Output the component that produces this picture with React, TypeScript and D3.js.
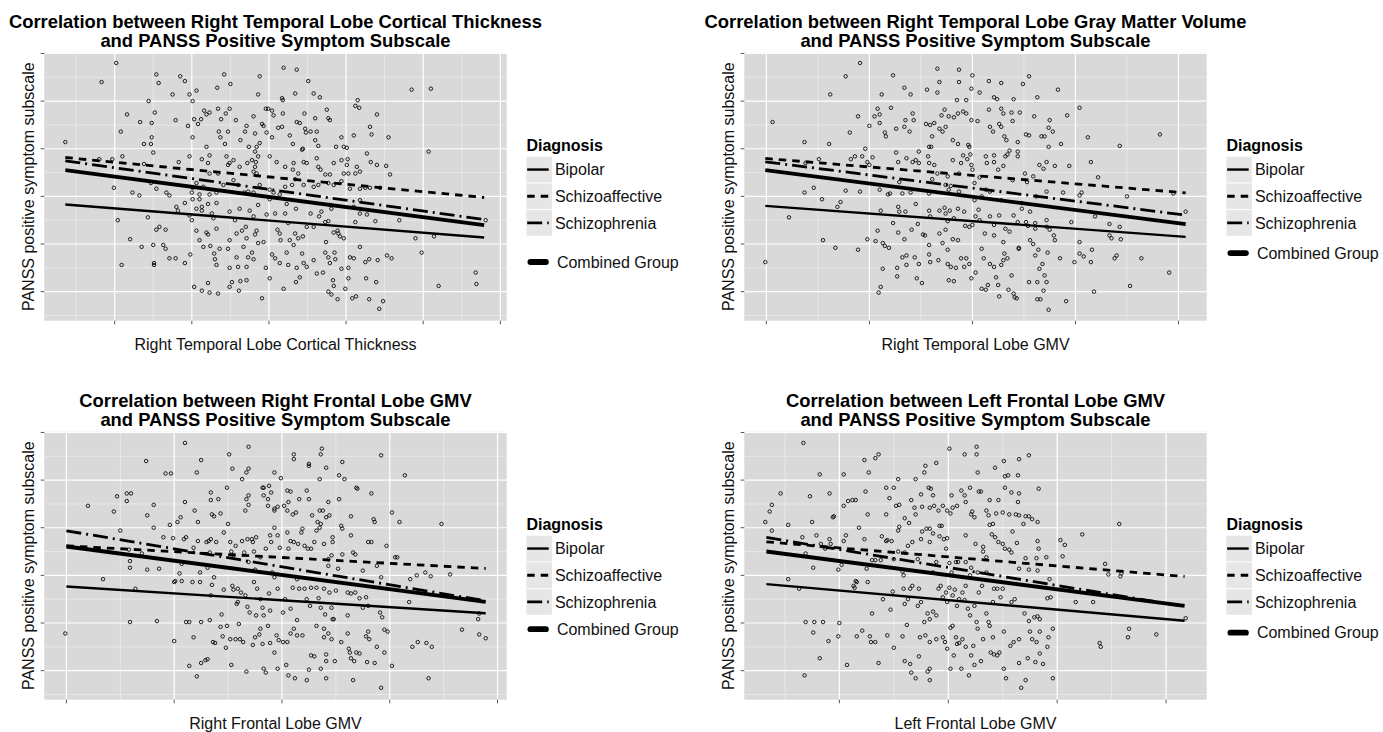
import React from "react";
import * as d3 from "d3";

type Pt = [number, number];

const legendTitle = "Diagnosis";
const legendGroups = ["Bipolar", "Schizoaffective", "Schizophrenia"];
const combinedLabel = "Combined Group";
const yAxisTitle = "PANSS positive symptom subscale";
const yTicks = [10, 15, 20, 25, 30, 35];
const yDomain: [number, number] = [6.95, 35.08];

// ---------- Panel 1: Right temporal lobe cortical thickness ----------
const ctTitle = ["Correlation between Right Temporal Lobe Cortical Thickness", "and PANSS Positive Symptom Subscale"];
const ctXLabel = "Right Temporal Lobe Cortical Thickness";
const ctXTicks = [1, 2, 3, 4, 5, 6];
const ctFitX = [0.36, 5.79];
// order: Bipolar, Schizoaffective, Schizophrenia, Combined
const ctFitStart = [19.15, 24.08, 23.73, 22.75];
const ctFitEnd = [15.68, 19.88, 17.57, 16.98];
const ctPoints: Pt[] = [
  [1.02,34.0],[0.83,32.0],[1.54,32.8],[1.57,31.9],[1.85,32.6],[1.91,32.1],[1.75,30.7],[1.97,30.7],[2.06,31.1],[2.01,30.0],[2.42,32.8],[2.33,31.4],[2.50,31.8],[2.88,32.6],[3.19,33.5],[3.36,33.3],[3.51,32.1],[2.86,30.7],[3.34,30.8],[3.17,30.3],[3.18,30.1],[3.58,30.8],[3.66,30.4],[4.15,30.1],[4.85,31.2],[5.10,31.3],[1.44,30.0],
  [4.17,29.3],[2.99,29.2],[3.04,29.0],[3.06,28.5],[2.96,29.2],[1.16,28.6],[1.08,26.8],[1.48,27.7],[1.52,28.8],[1.48,26.2],[1.47,25.5],[1.50,24.6],[1.38,25.5],[1.33,27.8],[1.79,28.0],[1.95,27.4],[2.01,26.2],[2.03,28.1],[2.08,27.6],[2.12,28.1],[2.16,29.0],[2.19,28.6],[2.23,28.8],[2.34,29.2],[2.38,28.1],[2.44,28.7],[2.49,29.2],[2.57,28.0],[2.35,26.8],[2.37,26.2],[2.47,26.8],[2.43,25.5],[2.71,27.4],[2.69,26.8],[2.63,25.9],[2.74,25.2],[2.80,28.4],[2.91,27.6],[2.93,27.4],[2.82,26.6],[2.88,25.6],[2.84,25.2],[2.82,24.7],[2.97,26.7],[3.04,26.2],[3.12,27.2],[3.17,27.3],[3.18,28.7],[3.27,26.4],[3.31,25.5],[3.36,27.8],[3.40,27.7],[3.46,28.7],[3.47,27.1],[3.48,26.7],[3.44,25.0],[3.60,28.2],[3.62,26.8],[3.60,25.9],[3.64,25.3],[3.77,28.2],[3.79,28.0],[3.75,29.1],[3.94,26.2],[3.97,25.2],[4.01,25.1],[4.10,26.4],[4.31,27.3],[4.33,26.5],[4.40,28.6],[4.55,26.2],[4.12,29.5],[3.87,25.2],[3.54,26.8],[2.19,25.2],
  [0.36,25.7],[0.80,23.9],[0.97,23.9],[1.10,24.2],[0.99,20.9],[1.23,20.4],[1.32,20.1],[1.38,23.4],[1.47,21.4],[1.67,20.4],[1.71,20.1],[1.83,23.6],[1.97,24.2],[2.00,20.4],[2.01,20.9],[2.10,20.2],[2.13,23.9],[2.21,23.5],[2.23,24.3],[2.23,22.4],[2.34,22.4],[2.45,24.2],[2.49,23.5],[2.54,23.8],[2.47,23.3],[2.62,23.1],[2.72,23.5],[2.78,23.8],[2.83,23.6],[2.86,24.2],[2.82,23.1],[2.80,22.6],[2.84,22.4],[3.01,24.2],[3.10,23.6],[3.21,23.1],[3.32,23.5],[3.31,22.8],[3.38,22.4],[3.43,24.9],[3.45,23.6],[3.49,23.5],[3.62,24.0],[3.64,23.1],[3.67,22.8],[3.73,22.3],[3.79,22.3],[3.84,23.5],[3.94,23.8],[4.02,23.9],[4.01,23.3],[3.97,22.4],[4.03,22.4],[4.12,22.4],[4.14,23.1],[4.18,22.6],[4.27,24.5],[4.32,23.6],[4.40,23.3],[4.52,23.2],[4.57,22.3],[5.07,24.7],[3.94,21.6],[4.05,20.8],[4.18,20.8],[4.25,20.9],[4.31,20.9],[4.44,20.9],[3.84,21.2],[3.77,21.4],[3.64,21.2],[3.58,21.0],[3.45,21.2],[3.34,21.8],[3.30,21.2],[3.21,21.0],[3.14,20.2],[3.06,20.4],[3.01,20.7],[2.88,21.2],[2.80,20.4],[2.73,20.5],[2.68,20.4],[2.60,21.2],[2.54,21.7],[2.41,21.2],[2.32,20.4],[2.23,20.2],[2.15,21.0],[2.06,21.4],[1.54,20.8],
  [1.04,17.5],[1.20,15.5],[1.35,14.7],[1.43,17.8],[1.50,14.9],[1.54,16.5],[1.58,16.8],[1.66,16.5],[1.63,14.9],[1.66,14.5],[1.80,18.9],[1.82,18.5],[1.91,19.3],[1.97,18.0],[2.01,19.7],[2.10,19.7],[2.13,18.9],[2.06,18.7],[2.13,18.5],[2.21,19.2],[2.26,18.2],[2.32,19.3],[2.28,17.7],[2.00,17.5],[2.06,16.4],[2.10,15.4],[2.15,14.7],[2.19,16.2],[2.21,16.0],[2.24,14.8],[2.32,16.6],[2.36,14.5],[2.49,18.4],[2.56,17.5],[2.58,16.1],[2.49,15.4],[2.47,14.5],[2.62,18.7],[2.65,16.4],[2.70,16.8],[2.71,15.6],[2.67,14.7],[2.75,18.5],[2.80,17.9],[2.82,16.0],[2.86,19.1],[2.84,16.4],[2.86,15.1],[2.93,15.2],[2.97,18.1],[3.01,19.7],[3.08,18.2],[3.11,16.5],[3.14,16.1],[3.15,15.4],[3.21,18.2],[3.23,19.2],[3.25,17.2],[3.27,15.4],[3.32,14.9],[3.34,16.1],[3.35,18.7],[3.38,15.6],[3.44,15.8],[3.49,16.8],[3.54,18.2],[3.58,16.8],[3.65,17.9],[3.68,18.4],[3.73,17.3],[3.77,17.4],[3.79,19.1],[3.81,18.7],[3.84,16.2],[3.89,16.4],[3.90,16.1],[3.92,15.8],[3.97,15.6],[3.74,15.2],[4.12,17.3],[4.18,18.2],[4.27,18.1],[4.38,17.4],[4.69,17.5],[4.90,15.6],[5.14,15.8],[5.81,17.5],[4.10,18.9],[4.18,19.6],
  [1.09,12.8],[1.51,13.0],[1.51,12.8],[1.71,13.5],[1.79,13.5],[1.91,13.0],[1.98,13.9],[2.03,10.5],[2.13,10.1],[2.21,10.9],[2.23,9.9],[2.34,9.8],[2.30,13.4],[2.32,12.8],[2.29,14.0],[2.49,12.5],[2.49,10.5],[2.52,11.0],[2.58,13.6],[2.60,12.6],[2.61,10.1],[2.63,11.1],[2.71,11.2],[2.73,13.6],[2.78,14.1],[2.80,13.4],[2.71,12.6],[2.91,9.3],[2.96,12.5],[3.01,11.4],[3.04,13.9],[3.08,13.5],[3.14,13.0],[3.19,10.3],[3.23,14.1],[3.25,12.8],[3.35,11.0],[3.36,12.5],[3.40,11.5],[3.43,14.0],[3.45,13.0],[3.49,12.6],[3.58,13.3],[3.62,11.9],[3.70,12.0],[3.73,14.1],[3.77,13.6],[3.79,13.0],[3.77,10.0],[3.83,11.2],[3.84,10.6],[3.81,9.7],[3.89,9.2],[3.86,13.4],[3.85,14.1],[3.94,12.4],[3.99,10.3],[4.03,11.4],[4.03,12.5],[4.05,13.6],[4.10,13.5],[4.08,9.3],[4.13,9.5],[4.18,14.7],[4.25,13.1],[4.26,11.4],[4.30,13.4],[4.30,9.2],[4.39,11.0],[4.41,13.3],[4.43,8.2],[4.48,9.0],[4.53,13.8],[4.59,13.5],[4.98,14.1],[5.20,10.6],[5.68,12.0],[5.69,10.8],
];

// ---------- Panel 2: Right temporal lobe GMV ----------
const rtTitle = ["Correlation between Right Temporal Lobe Gray Matter Volume", "and PANSS Positive Symptom Subscale"];
const rtXLabel = "Right Temporal Lobe GMV";
const rtXTicks = [1, 2, 3, 4, 5];
const rtFitX = [0.99, 5.07];
const rtFitStart = [19.0, 23.98, 23.63, 22.75];
const rtFitEnd = [15.75, 20.37, 18.03, 17.08];
const rtPoints: Pt[] = [
  [1.91,34.0],[1.77,32.6],[2.23,32.7],[2.66,33.4],[2.87,33.3],[2.68,32.0],[2.87,32.0],[3.00,32.7],[3.16,32.1],[3.28,31.9],[3.49,31.8],[3.55,32.6],[2.34,31.4],[2.40,30.7],[2.56,31.2],[2.66,30.9],[2.99,31.3],[3.07,30.9],[3.21,30.4],[3.24,30.2],[3.83,31.2],[3.63,30.4],[3.40,30.2],[2.85,30.1],[2.94,30.1],[2.12,30.7],[1.62,30.7],
  [1.06,27.8],[1.37,25.7],[1.61,25.5],[1.81,26.7],[1.89,28.4],[2.00,27.4],[2.05,28.4],[2.08,29.2],[2.10,28.6],[2.10,27.7],[2.21,29.3],[2.15,26.7],[2.16,26.3],[2.26,27.1],[2.34,27.3],[2.35,28.0],[2.39,26.8],[2.42,28.7],[2.43,28.0],[2.55,27.6],[2.59,27.5],[2.63,27.7],[2.61,26.3],[2.58,25.2],[2.68,27.1],[2.71,26.8],[2.74,27.3],[2.73,29.1],[2.70,28.5],[2.77,28.4],[2.82,28.3],[2.86,28.7],[2.81,25.9],[2.86,25.5],[2.91,28.9],[2.94,28.7],[2.99,28.0],[2.96,25.4],[3.05,27.9],[3.16,29.1],[3.17,27.3],[3.20,26.8],[3.26,27.6],[3.28,29.2],[3.30,28.7],[3.31,26.3],[3.33,25.9],[3.38,28.8],[3.39,27.9],[3.46,28.8],[3.52,26.5],[3.55,26.4],[3.44,25.7],[3.60,28.4],[3.70,26.3],[3.74,25.2],[3.75,28.0],[3.74,27.2],[3.78,26.8],[3.86,25.5],[3.92,28.5],[4.04,29.3],[4.12,26.2],[3.67,26.3],[4.43,25.3],[4.82,26.5],[3.28,27.3],
  [1.38,23.5],[1.37,20.4],[1.46,20.9],[1.51,23.9],[1.77,20.6],[1.82,23.9],[1.86,24.2],[1.93,24.2],[1.96,25.0],[1.98,23.6],[2.00,23.3],[1.91,20.5],[2.03,24.1],[2.10,20.7],[2.18,20.2],[2.20,20.3],[2.26,24.6],[2.28,23.6],[2.29,21.5],[2.32,20.3],[2.36,24.0],[2.40,20.4],[2.42,23.6],[2.45,23.8],[2.48,23.5],[2.48,24.7],[2.57,24.2],[2.58,23.5],[2.60,25.2],[2.63,23.3],[2.66,22.4],[2.76,22.1],[2.81,23.8],[2.87,22.4],[2.89,23.5],[2.91,24.3],[2.95,23.9],[2.97,25.2],[2.98,24.4],[2.99,23.3],[3.00,22.8],[3.02,21.4],[3.07,22.0],[3.13,24.2],[3.14,23.5],[3.21,24.3],[3.21,23.6],[3.25,22.8],[3.30,23.2],[3.32,24.2],[3.34,24.4],[3.36,24.8],[3.44,24.7],[3.44,24.2],[3.51,22.4],[3.53,21.5],[3.59,22.1],[3.65,23.3],[3.69,22.9],[3.72,23.6],[3.80,23.2],[3.94,23.2],[3.88,20.4],[4.04,20.1],[4.06,20.4],[4.15,23.6],[4.22,22.0],[4.50,20.0],[4.95,20.3],[3.72,20.5],[3.62,20.0],[3.39,21.7],[3.17,20.5],[3.13,20.7],[3.09,20.0],[2.87,20.5],[2.79,21.1],[2.77,20.7],[2.74,21.2],[2.58,20.3],[2.61,21.8],
  [1.22,17.8],[1.54,19.7],[1.55,15.4],[1.67,14.6],[1.69,18.9],[1.72,19.4],[1.98,15.5],[2.08,16.4],[2.06,15.3],[2.11,18.5],[2.13,15.1],[2.15,14.8],[2.19,14.6],[2.23,17.2],[2.28,16.2],[2.28,18.9],[2.29,18.4],[2.35,18.4],[2.34,15.5],[2.41,16.5],[2.45,19.2],[2.47,17.1],[2.52,16.0],[2.54,15.9],[2.58,18.5],[2.59,17.9],[2.58,14.9],[2.68,16.1],[2.68,18.5],[2.71,15.1],[2.73,18.8],[2.74,18.2],[2.76,17.4],[2.74,16.5],[2.78,18.5],[2.82,17.7],[2.81,15.5],[2.86,15.4],[2.86,18.7],[2.92,18.4],[2.93,16.9],[2.97,16.8],[3.00,17.0],[3.02,19.6],[3.03,17.9],[3.06,18.6],[3.07,17.5],[3.12,16.1],[3.09,14.5],[3.17,17.9],[3.21,15.9],[3.21,17.0],[3.26,18.0],[3.28,19.6],[3.30,15.2],[3.32,16.6],[3.36,16.3],[3.40,18.0],[3.44,17.3],[3.45,14.5],[3.48,18.7],[3.48,19.3],[3.52,17.3],[3.54,16.9],[3.56,18.4],[3.56,15.4],[3.59,15.0],[3.61,17.2],[3.61,16.6],[3.64,14.4],[3.72,17.5],[3.72,16.8],[3.75,16.5],[3.79,15.9],[3.80,15.4],[3.96,17.3],[4.04,15.2],[4.19,17.9],[4.33,17.1],[4.33,15.9],[4.35,15.6],[4.43,16.8],[4.44,15.5],[5.07,18.4],
  [0.99,13.1],[1.89,14.4],[2.09,9.9],[2.11,10.5],[2.13,12.4],[2.27,12.5],[2.32,13.6],[2.36,13.8],[2.27,11.6],[2.36,12.8],[2.44,13.6],[2.46,11.4],[2.51,10.9],[2.48,12.9],[2.58,13.9],[2.59,13.1],[2.67,13.3],[2.76,14.4],[2.77,11.2],[2.82,11.1],[2.76,12.9],[2.79,12.6],[2.84,12.5],[2.89,13.5],[2.94,13.5],[2.92,12.6],[2.97,12.9],[2.99,11.4],[3.03,12.0],[3.09,10.3],[3.11,13.5],[3.13,10.2],[3.15,10.7],[3.17,12.9],[3.21,12.6],[3.23,11.5],[3.25,10.7],[3.26,9.5],[3.28,12.8],[3.30,13.3],[3.31,14.0],[3.34,13.5],[3.35,10.2],[3.38,11.7],[3.40,9.8],[3.41,9.4],[3.43,9.3],[3.45,14.6],[3.55,11.0],[3.61,13.8],[3.63,11.0],[3.65,12.4],[3.68,12.9],[3.72,11.0],[3.70,11.7],[3.69,10.1],[3.63,9.2],[3.66,9.2],[3.74,8.1],[3.73,14.1],[3.85,13.5],[3.91,9.0],[3.99,13.1],[4.04,14.0],[4.08,13.7],[4.16,14.4],[4.15,13.1],[4.18,10.0],[4.38,13.5],[4.40,13.8],[4.53,10.6],[4.64,13.5],[4.91,12.0],
];

// ---------- Panel 3: Right frontal lobe GMV ----------
const rfTitle = ["Correlation between Right Frontal Lobe GMV", "and PANSS Positive Symptom Subscale"];
const rfXLabel = "Right Frontal Lobe GMV";
const rfXTicks = [1, 2, 3, 4, 5];
const rfFitX = [1.0, 4.89];
const rfFitStart = [18.83, 23.1, 24.68, 23.03];
const rfFitEnd = [16.03, 20.72, 17.33, 17.22];
const rfPoints: Pt[] = [
  [2.10,33.9],[2.69,33.5],[1.74,32.0],[2.25,32.1],[2.51,32.7],[2.21,30.8],[2.54,31.2],[2.67,30.8],[2.69,31.2],[2.63,30.1],[1.92,30.7],[1.97,30.7],[3.11,32.7],[3.11,32.2],[3.25,31.7],[3.25,31.5],[3.37,33.3],[3.36,32.7],[3.41,31.3],[3.56,31.9],[3.92,32.6],[4.14,30.5],[3.53,30.5],[3.58,30.1],[2.93,30.8],[2.99,30.2],[3.35,30.1],
  [1.20,27.3],[1.44,26.7],[1.47,28.3],[1.56,27.8],[1.56,28.6],[1.60,28.6],[1.75,26.3],[1.81,27.4],[1.81,25.0],[1.96,25.3],[2.03,25.6],[2.06,26.1],[2.10,27.7],[2.19,26.8],[2.22,25.6],[2.34,27.9],[2.34,28.7],[2.35,26.4],[2.37,26.2],[2.41,28.0],[2.43,26.5],[2.49,29.2],[2.50,25.4],[2.66,26.8],[2.67,28.0],[2.69,28.4],[2.69,27.4],[2.82,29.2],[2.83,29.2],[2.88,29.4],[2.83,28.4],[2.87,28.0],[2.90,28.7],[2.87,27.3],[2.93,27.0],[2.93,26.8],[2.96,27.2],[3.02,27.3],[3.05,28.9],[3.05,26.8],[3.08,28.8],[3.06,27.7],[3.10,26.4],[3.13,26.6],[3.16,28.0],[3.23,28.9],[3.25,28.0],[3.28,26.3],[3.35,26.8],[3.38,26.8],[3.44,26.3],[3.43,27.7],[3.53,28.0],[3.64,26.2],[3.69,29.2],[3.70,29.1],[3.83,28.6],[3.85,25.9],[3.86,25.6],[4.02,26.6],[4.09,25.6],[4.48,25.4],[3.33,25.6],[3.41,26.1],
  [1.34,19.6],[1.50,24.7],[1.58,22.7],[1.59,21.5],[1.59,20.8],[1.70,22.3],[1.75,20.6],[1.86,20.7],[1.90,24.0],[1.99,23.9],[2.01,19.4],[2.05,20.2],[2.07,21.2],[2.09,23.8],[2.11,24.0],[2.18,22.9],[2.22,23.6],[2.30,23.5],[2.32,23.6],[2.34,23.8],[2.33,22.4],[2.24,20.3],[2.31,20.8],[2.37,19.8],[2.39,23.5],[2.46,24.5],[2.52,23.5],[2.53,22.5],[2.55,22.1],[2.57,23.1],[2.63,23.6],[2.68,23.8],[2.72,23.8],[2.73,23.5],[2.76,24.0],[2.74,22.5],[2.65,22.4],[2.69,21.4],[2.75,20.6],[2.80,21.9],[2.85,22.8],[2.89,24.2],[2.90,23.5],[2.93,25.0],[2.96,24.2],[2.91,20.3],[2.93,19.8],[2.98,22.9],[3.05,24.5],[3.06,22.8],[3.08,23.6],[3.11,23.5],[3.15,23.3],[3.18,24.5],[3.21,23.1],[3.19,24.9],[3.24,22.8],[3.27,22.8],[3.30,23.5],[3.32,24.7],[3.35,25.0],[3.36,25.4],[3.39,23.3],[3.43,21.7],[3.43,21.0],[3.46,22.1],[3.47,24.0],[3.47,23.5],[3.52,20.7],[3.55,25.2],[3.56,24.9],[3.56,22.2],[3.64,24.2],[3.66,22.4],[3.68,22.2],[3.75,20.5],[3.80,23.5],[3.83,23.5],[3.88,21.0],[3.92,19.8],[3.97,23.1],[4.05,21.9],[4.07,21.9],[4.19,19.6],[4.25,20.0],[4.33,20.3],[4.38,19.9],[4.56,20.1],
  [1.64,18.6],[1.59,15.1],[1.84,15.2],[2.00,19.3],[2.07,19.4],[2.17,19.3],[2.24,19.3],[2.35,19.0],[2.34,17.9],[2.44,15.9],[2.46,18.5],[2.54,18.9],[2.59,18.6],[2.62,18.2],[2.55,18.5],[2.59,17.2],[2.66,17.9],[2.58,17.0],[2.68,16.7],[2.74,19.3],[2.77,18.6],[2.80,17.5],[2.70,16.1],[2.76,15.8],[2.82,16.6],[2.83,15.8],[2.89,16.3],[2.88,18.1],[2.96,18.6],[3.01,16.1],[3.03,17.5],[3.08,16.5],[3.10,18.7],[3.14,19.6],[3.14,15.3],[3.16,18.6],[3.21,18.6],[3.23,17.5],[3.26,16.8],[3.27,18.7],[3.32,18.7],[3.34,17.6],[3.36,16.6],[3.40,15.9],[3.39,18.6],[3.44,18.2],[3.46,16.6],[3.48,15.4],[3.50,18.4],[3.61,18.2],[3.64,18.1],[3.68,18.2],[3.72,17.6],[3.75,16.6],[3.78,17.7],[3.80,16.8],[3.91,16.1],[3.93,15.6],[3.61,15.8],[4.18,17.2],[4.82,15.4],[4.83,16.0],
  [0.99,13.9],[2.00,13.1],[2.11,15.1],[2.14,15.1],[2.14,10.5],[2.18,13.5],[2.21,9.4],[2.25,10.8],[2.25,15.1],[2.29,11.1],[2.31,11.2],[2.33,15.3],[2.36,13.0],[2.38,12.9],[2.43,14.6],[2.45,13.6],[2.48,12.4],[2.49,14.7],[2.52,13.3],[2.53,10.6],[2.57,13.3],[2.60,14.9],[2.61,13.3],[2.64,13.0],[2.67,9.9],[2.73,12.7],[2.75,13.5],[2.79,13.8],[2.80,14.4],[2.82,12.8],[2.83,10.2],[2.85,9.8],[2.87,14.7],[2.89,12.9],[2.93,11.9],[2.95,13.7],[2.96,10.2],[2.97,13.2],[3.01,13.0],[3.04,10.6],[3.05,13.0],[3.06,9.5],[3.08,13.9],[3.11,14.4],[3.12,9.2],[3.14,13.7],[3.19,13.7],[3.23,9.0],[3.25,10.1],[3.27,11.6],[3.30,11.5],[3.32,14.7],[3.36,10.2],[3.39,14.4],[3.39,13.5],[3.41,11.7],[3.41,11.0],[3.41,9.2],[3.43,13.9],[3.46,13.3],[3.47,15.4],[3.49,11.0],[3.55,13.0],[3.61,13.9],[3.62,12.3],[3.63,11.9],[3.64,11.3],[3.67,11.0],[3.69,11.9],[3.72,11.8],[3.66,9.0],[3.78,13.6],[3.79,10.9],[3.80,14.1],[3.81,13.3],[3.88,12.5],[3.86,10.8],[3.92,8.2],[3.95,11.9],[3.95,14.3],[3.98,14.1],[4.02,10.5],[4.21,12.5],[4.26,13.0],[4.34,12.9],[4.39,12.5],[4.36,9.2],[4.67,14.3],[4.83,13.8],[4.89,13.4],
];

// ---------- Panel 4: Left frontal lobe GMV ----------
const lfTitle = ["Correlation between Left Frontal Lobe GMV", "and PANSS Positive Symptom Subscale"];
const lfXLabel = "Left Frontal Lobe GMV";
const lfXTicks = [2, 3, 4, 5];
const lfFitX = [1.33, 5.17];
const lfFitStart = [19.08, 23.52, 23.98, 22.5];
const lfFitEnd = [15.23, 19.88, 16.73, 16.8];
const lfPoints: Pt[] = [
  [1.67,33.9],[1.82,30.6],[2.23,32.1],[2.33,32.3],[2.36,32.7],[2.27,30.8],[2.04,30.6],[3.01,33.3],[3.15,32.7],[3.26,33.5],[3.26,32.7],[2.89,31.8],[2.79,31.5],[2.70,30.1],[2.78,30.8],[3.51,32.0],[3.65,32.2],[3.74,32.6],[3.43,31.3],[3.52,30.4],[3.55,30.5],[3.64,30.5],[3.27,30.8],[2.54,30.1],
  [1.32,25.6],[1.36,26.7],[1.38,27.4],[1.46,28.6],[1.53,25.3],[1.73,28.3],[1.75,25.6],[1.91,28.6],[1.94,26.1],[1.95,26.2],[2.04,27.3],[2.08,27.8],[2.12,27.9],[2.15,27.9],[2.24,28.8],[2.26,26.4],[2.18,25.0],[2.43,29.2],[2.43,26.4],[2.46,28.1],[2.50,29.2],[2.52,27.3],[2.55,27.4],[2.60,26.0],[2.64,25.5],[2.66,27.9],[2.69,27.1],[2.70,26.4],[2.75,28.5],[2.76,27.2],[2.82,29.2],[2.84,29.1],[2.83,27.1],[2.86,28.4],[2.87,27.3],[2.91,26.8],[2.92,25.2],[2.95,27.3],[2.99,26.8],[3.02,26.5],[3.03,28.4],[3.04,27.1],[3.08,27.3],[3.12,28.9],[3.15,28.4],[3.16,27.7],[3.20,29.2],[3.21,26.4],[3.22,26.7],[3.24,26.1],[3.28,28.8],[3.30,28.8],[3.35,26.8],[3.37,26.3],[3.38,27.9],[3.38,25.3],[3.41,25.4],[3.44,26.5],[3.46,27.9],[3.50,26.6],[3.52,29.2],[3.56,26.4],[3.58,28.7],[3.62,26.4],[3.64,27.7],[3.65,28.6],[3.65,26.3],[3.69,25.4],[3.71,26.2],[3.74,26.2],[3.77,25.9],[3.82,25.6],[3.83,29.1],[4.57,25.4],
  [1.38,24.7],[1.66,24.0],[1.69,22.3],[1.76,20.8],[1.79,24.2],[1.83,23.3],[1.87,22.8],[1.91,23.8],[1.92,23.3],[1.99,20.6],[2.02,21.1],[2.04,23.6],[2.06,24.2],[2.13,18.9],[2.15,19.4],[2.23,23.8],[2.25,20.7],[2.26,19.3],[2.30,21.6],[2.33,21.6],[2.38,21.6],[2.39,24.1],[2.43,23.6],[2.44,23.7],[2.48,23.6],[2.50,21.7],[2.54,24.7],[2.54,22.5],[2.55,25.1],[2.58,20.4],[2.59,20.0],[2.60,22.4],[2.63,23.1],[2.67,23.5],[2.72,21.7],[2.75,23.8],[2.76,24.6],[2.80,24.9],[2.83,24.9],[2.86,24.4],[2.83,23.5],[2.86,20.3],[2.89,21.4],[2.92,24.1],[2.94,25.2],[2.96,23.8],[2.98,22.8],[2.99,23.9],[3.01,21.3],[3.03,20.3],[3.07,21.4],[3.09,21.4],[3.16,21.4],[3.16,24.2],[3.20,20.0],[3.21,20.8],[3.25,23.3],[3.27,20.3],[3.32,22.5],[3.32,23.0],[3.35,21.9],[3.35,20.3],[3.40,24.3],[3.43,24.0],[3.46,23.5],[3.50,23.3],[3.52,22.8],[3.56,22.7],[3.58,22.4],[3.59,24.6],[3.63,23.4],[3.65,20.7],[3.71,21.8],[3.74,20.6],[3.82,23.6],[3.83,22.8],[3.81,21.8],[3.82,20.5],[3.90,21.9],[3.93,19.6],[4.03,23.7],[4.07,23.2],[4.05,22.0],[4.23,24.3],[4.44,21.2],[4.47,20.1],[4.58,19.9],[4.59,20.2],
  [1.53,19.6],[1.63,18.6],[1.69,15.1],[1.77,15.1],[1.85,15.1],[2.00,15.0],[2.14,18.7],[2.16,19.3],[2.30,16.0],[2.40,17.5],[2.47,16.4],[2.49,18.3],[2.59,18.6],[2.60,17.0],[2.63,17.5],[2.65,18.6],[2.67,18.9],[2.72,16.8],[2.73,18.6],[2.75,17.2],[2.78,15.1],[2.81,16.0],[2.83,15.4],[2.86,16.2],[2.89,15.8],[2.91,18.6],[2.93,18.9],[2.95,17.7],[2.98,18.2],[2.99,17.2],[3.01,18.7],[3.04,17.9],[3.06,18.5],[3.08,16.8],[3.10,17.5],[3.13,18.2],[3.15,17.4],[3.16,18.9],[3.18,16.5],[3.20,15.8],[3.24,16.8],[3.26,15.1],[3.28,18.2],[3.31,18.9],[3.35,16.0],[3.37,15.1],[3.41,17.2],[3.42,18.6],[3.45,18.6],[3.48,17.7],[3.50,18.6],[3.58,17.2],[3.61,17.5],[3.70,16.0],[3.74,15.2],[3.79,15.6],[3.82,15.7],[3.84,15.4],[3.91,17.6],[3.94,17.7],[4.17,17.2],[4.33,17.2],[5.18,15.5],
  [1.82,11.3],[1.68,9.5],[1.76,14.0],[1.90,13.1],[1.99,13.6],[2.07,10.6],[2.16,13.6],[2.21,14.2],[2.28,13.6],[2.29,13.0],[2.33,13.0],[2.36,10.8],[2.44,13.7],[2.50,12.4],[2.58,13.6],[2.60,11.0],[2.62,14.8],[2.65,10.7],[2.66,9.8],[2.70,9.2],[2.73,11.5],[2.74,13.5],[2.79,13.7],[2.81,9.9],[2.83,10.2],[2.83,9.0],[2.83,13.0],[2.89,13.3],[2.95,13.5],[2.97,13.0],[2.99,12.3],[3.02,10.2],[3.02,14.5],[3.04,14.7],[3.05,11.6],[3.07,13.5],[3.08,12.8],[3.10,12.9],[3.12,10.2],[3.13,13.3],[3.16,12.5],[3.19,9.5],[3.21,11.6],[3.23,12.6],[3.24,10.6],[3.27,14.4],[3.30,11.0],[3.32,13.3],[3.38,14.7],[3.39,11.9],[3.41,13.5],[3.42,11.7],[3.45,11.6],[3.47,11.9],[3.51,10.2],[3.51,14.1],[3.53,9.2],[3.57,12.6],[3.60,13.0],[3.65,13.3],[3.65,10.8],[3.67,8.2],[3.71,9.0],[3.73,11.3],[3.75,14.1],[3.77,13.3],[3.80,10.9],[3.81,13.0],[3.84,11.8],[3.84,14.1],[3.87,10.7],[3.92,13.5],[3.91,12.5],[3.96,14.4],[3.96,9.2],[4.39,12.9],[4.40,12.5],[4.66,14.4],[4.65,13.5],[4.91,13.8],
];

interface PanelData {
  title: string[];
  xLabel: string;
  xTicks: number[];
  points: Pt[];
  fitX: number[];
  fitStart: number[];
  fitEnd: number[];
}

const panels: PanelData[] = [
  { title: ctTitle, xLabel: ctXLabel, xTicks: ctXTicks, points: ctPoints, fitX: ctFitX, fitStart: ctFitStart, fitEnd: ctFitEnd },
  { title: rtTitle, xLabel: rtXLabel, xTicks: rtXTicks, points: rtPoints, fitX: rtFitX, fitStart: rtFitStart, fitEnd: rtFitEnd },
  { title: rfTitle, xLabel: rfXLabel, xTicks: rfXTicks, points: rfPoints, fitX: rfFitX, fitStart: rfFitStart, fitEnd: rfFitEnd },
  { title: lfTitle, xLabel: lfXLabel, xTicks: lfXTicks, points: lfPoints, fitX: lfFitX, fitStart: lfFitStart, fitEnd: lfFitEnd },
];

// layout (pixels)
const layouts = [
  { left: 44.3, top: 52.7, combinedDy: 209.3 },
  { left: 744.3, top: 52.7, combinedDy: 200.5 },
  { left: 44.3, top: 431.7, combinedDy: 197.5 },
  { left: 744.3, top: 431.7, combinedDy: 201 },
];
const PW = 462.4;
const PH = 268;

// Bipolar, Schizoaffective, Schizophrenia, Combined
const lineStyles = [
  { dash: undefined as string | undefined, width: 2.4 },
  { dash: "7.5,6", width: 2.8 },
  { dash: "15,5,2,5", width: 2.8 },
  { dash: undefined as string | undefined, width: 3.9 },
];

const FONT = "'Liberation Sans', Arial, Helvetica, sans-serif";
const PANEL_BG = "#d9d9d9";
const KEY_BG = "#e6e6e6";

function Panel({ d, lay }: { d: PanelData; lay: { left: number; top: number; combinedDy: number } }) {
  const { left, top } = lay;
  const xsAll = d.points.map((p) => p[0]).concat(d.fitX);
  const [mn, mx] = d3.extent(xsAll) as [number, number];
  const pad = (mx - mn) * 0.05;
  const x = d3.scaleLinear().domain([mn - pad, mx + pad]).range([left, left + PW]);
  const y = d3.scaleLinear().domain(yDomain).range([top + PH, top]);
  const [dx0, dx1] = x.domain();
  const xMinor = [...d.xTicks.map((t) => t - 0.5), d.xTicks[d.xTicks.length - 1] + 0.5].filter((v) => v > dx0 && v < dx1);
  const yMinor = [...yTicks.map((t) => t - 2.5), yTicks[yTicks.length - 1] + 2.5].filter((v) => v > yDomain[0] && v < yDomain[1]);
  const line = d3.line<Pt>().x((p) => x(p[0])).y((p) => y(p[1]));
  const cx = left + PW / 2;
  const lx = left + PW + 19.7;
  const boxTop = top + 104;
  const boxH = 26.7;

  return (
    <g>
      <text x={cx} y={top - 24.4} textAnchor="middle" fontFamily={FONT} fontWeight="bold" fontSize={18.4} fill="#000">{d.title[0]}</text>
      <text x={cx} y={top - 6} textAnchor="middle" fontFamily={FONT} fontWeight="bold" fontSize={18.4} fill="#000">{d.title[1]}</text>

      <rect x={left} y={top} width={PW} height={PH} fill={PANEL_BG} />
      {xMinor.map((v) => (
        <line key={"xm" + v} x1={x(v)} x2={x(v)} y1={top} y2={top + PH} stroke="#f2f2f2" strokeWidth={0.6} />
      ))}
      {yMinor.map((v) => (
        <line key={"ym" + v} x1={left} x2={left + PW} y1={y(v)} y2={y(v)} stroke="#f2f2f2" strokeWidth={0.6} />
      ))}
      {d.xTicks.map((v) => (
        <line key={"xM" + v} x1={x(v)} x2={x(v)} y1={top} y2={top + PH} stroke="#ffffff" strokeWidth={1.2} />
      ))}
      {yTicks.map((v) => (
        <line key={"yM" + v} x1={left} x2={left + PW} y1={y(v)} y2={y(v)} stroke="#ffffff" strokeWidth={1.2} />
      ))}

      {d.points.map((p, i) => (
        <circle key={"p" + i} cx={x(p[0])} cy={y(p[1])} r={1.75} fill="none" stroke="#000" strokeWidth={0.85} />
      ))}

      {lineStyles.map((s, i) => (
        <path
          key={"fit" + i}
          d={line([[d.fitX[0], d.fitStart[i]], [d.fitX[1], d.fitEnd[i]]]) || ""}
          fill="none"
          stroke="#000"
          strokeWidth={s.width}
          strokeDasharray={s.dash}
        />
      ))}

      {d.xTicks.map((v) => (
        <line key={"xt" + v} x1={x(v)} x2={x(v)} y1={top + PH} y2={top + PH + 3.6} stroke="#555" strokeWidth={1} />
      ))}
      {yTicks.map((v) => (
        <line key={"yt" + v} x1={left - 3.6} x2={left} y1={y(v)} y2={y(v)} stroke="#555" strokeWidth={1} />
      ))}

      <text x={cx} y={top + PH + 29.3} textAnchor="middle" fontFamily={FONT} fontSize={16} fill="#111">{d.xLabel}</text>
      <text
        transform={`translate(${left - 10.8},${top + PH / 2}) rotate(-90)`}
        textAnchor="middle"
        fontFamily={FONT}
        fontSize={16}
        fill="#111"
      >
        {yAxisTitle}
      </text>

      <text x={lx} y={top + 98.3} fontFamily={FONT} fontWeight="bold" fontSize={16} fill="#000">{legendTitle}</text>
      {legendGroups.map((g, i) => {
        const by = boxTop + i * boxH;
        const cy = by + boxH / 2;
        const s = lineStyles[i];
        return (
          <g key={"lg" + g}>
            <rect x={lx} y={by} width={25.5} height={boxH - 1} fill={KEY_BG} />
            <line x1={lx + 0.8} x2={lx + 22.3} y1={cy - 0.5} y2={cy - 0.5} stroke="#000" strokeWidth={s.width} strokeDasharray={s.dash} />
            <text x={lx + 28.5} y={cy + 5.2} fontFamily={FONT} fontSize={16} fill="#111">{g}</text>
          </g>
        );
      })}
      <line x1={lx + 4} x2={lx + 19.5} y1={top + lay.combinedDy} y2={top + lay.combinedDy} stroke="#000" strokeWidth={5.8} strokeLinecap="round" />
      <text x={lx + 30.5} y={top + lay.combinedDy + 5.7} fontFamily={FONT} fontSize={16} fill="#111">{combinedLabel}</text>
    </g>
  );
}

export default function App() {
  return (
    <svg width={1383} height={732} style={{ position: "absolute", left: 0, top: 0, background: "#fff" }}>
      <rect x={0} y={0} width={1383} height={732} fill="#fff" />
      {panels.map((d, i) => (
        <Panel key={i} d={d} lay={layouts[i]} />
      ))}
    </svg>
  );
}
